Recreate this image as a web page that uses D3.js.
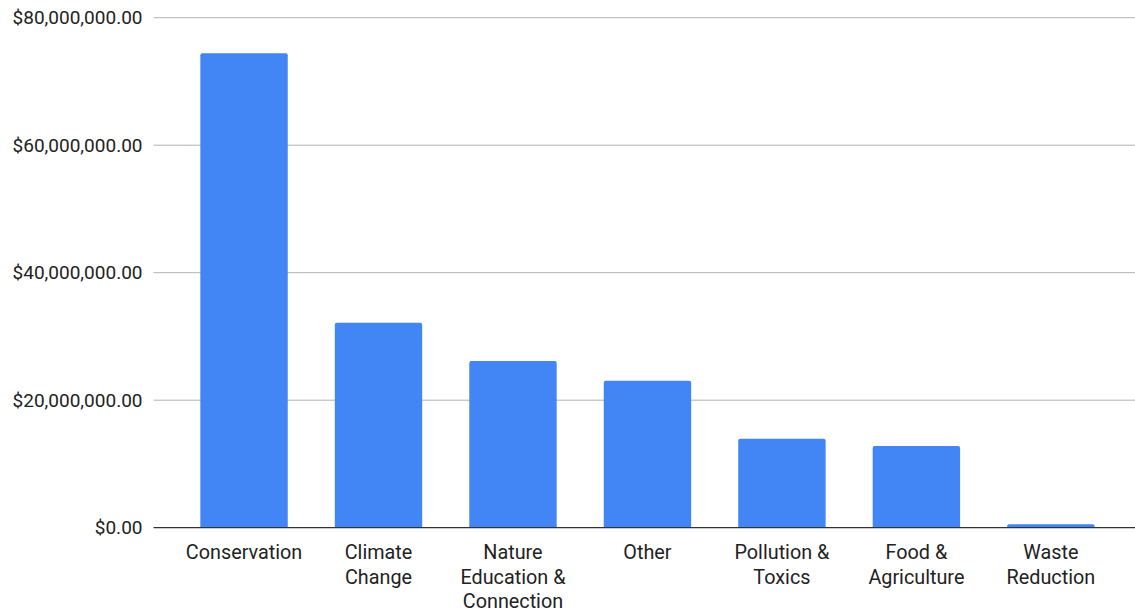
<!DOCTYPE html>
<html>
<head>
<meta charset="utf-8">
<script src="https://cdn.jsdelivr.net/npm/d3@7"></script>
<style>
  html, body { margin: 0; padding: 0; background: #fff; }
  svg { display: block; font-family: Roboto, "Noto Sans", sans-serif; }
</style>
</head>
<body>
<svg id="chart" width="1135" height="612"></svg>
<script>
// Funding by issue area (USD)
const categories = [
  ["Conservation"],
  ["Climate", "Change"],
  ["Nature", "Education &", "Connection"],
  ["Other"],
  ["Pollution &", "Toxics"],
  ["Food &", "Agriculture"],
  ["Waste", "Reduction"]
];
const amounts = [74420000, 32160000, 26150000, 23060000, 13960000, 12820000, 530000];
const yTicks = [0, 20000000, 40000000, 60000000, 80000000];

const svg = d3.select("#chart");
const plot = { left: 153.5, right: 1135, top: 17.7, bottom: 527.7 };

const y = d3.scaleLinear().domain([0, 80000000]).range([plot.bottom, plot.top]);
const x = d3.scaleBand()
  .domain(d3.range(categories.length))
  .range([176.8, 1118.1])
  .paddingInner(0.35)
  .paddingOuter(0.175);

const money = d3.format("$,.2f");

// Horizontal grid lines
svg.append("g")
  .selectAll("line")
  .data(yTicks.filter(d => d > 0))
  .join("line")
  .attr("x1", plot.left).attr("x2", plot.right)
  .attr("y1", d => y(d)).attr("y2", d => y(d))
  .attr("stroke", "#b3b3b3").attr("stroke-width", 1);

// Y axis labels
const yAxis = d3.axisLeft(y).tickValues(yTicks).tickFormat(money).tickSize(0).tickPadding(11);
const yg = svg.append("g").attr("transform", `translate(${plot.left},0)`).call(yAxis);
yg.select(".domain").remove();
yg.selectAll("text")
  .attr("font-size", 19)
  .attr("font-family", "Roboto, sans-serif")
  .attr("fill", "#222");

// Bars with slightly rounded tops
const r = 2;
svg.append("g")
  .selectAll("path")
  .data(amounts)
  .join("path")
  .attr("d", (d, i) => {
    const x0 = x(i), w = x.bandwidth(), y0 = y(d), y1 = y(0);
    const rr = Math.min(r, (y1 - y0) / 2);
    return `M${x0},${y1}V${y0 + rr}Q${x0},${y0} ${x0 + rr},${y0}H${x0 + w - rr}Q${x0 + w},${y0} ${x0 + w},${y0 + rr}V${y1}Z`;
  })
  .attr("fill", "#4285f4");

// Baseline
svg.append("line")
  .attr("x1", plot.left).attr("x2", plot.right)
  .attr("y1", y(0)).attr("y2", y(0))
  .attr("stroke", "#333").attr("stroke-width", 1.3);

// Category labels
const xl = svg.append("g");
categories.forEach((lines, i) => {
  const t = xl.append("text")
    .attr("x", x(i) + x.bandwidth() / 2)
    .attr("y", 559)
    .attr("text-anchor", "middle")
    .attr("font-size", 19.8)
    .attr("fill", "#222");
  lines.forEach((s, j) => {
    t.append("tspan")
      .attr("x", x(i) + x.bandwidth() / 2)
      .attr("y", 559 + j * 24.7)
      .text(s);
  });
});
</script>
</body>
</html>
